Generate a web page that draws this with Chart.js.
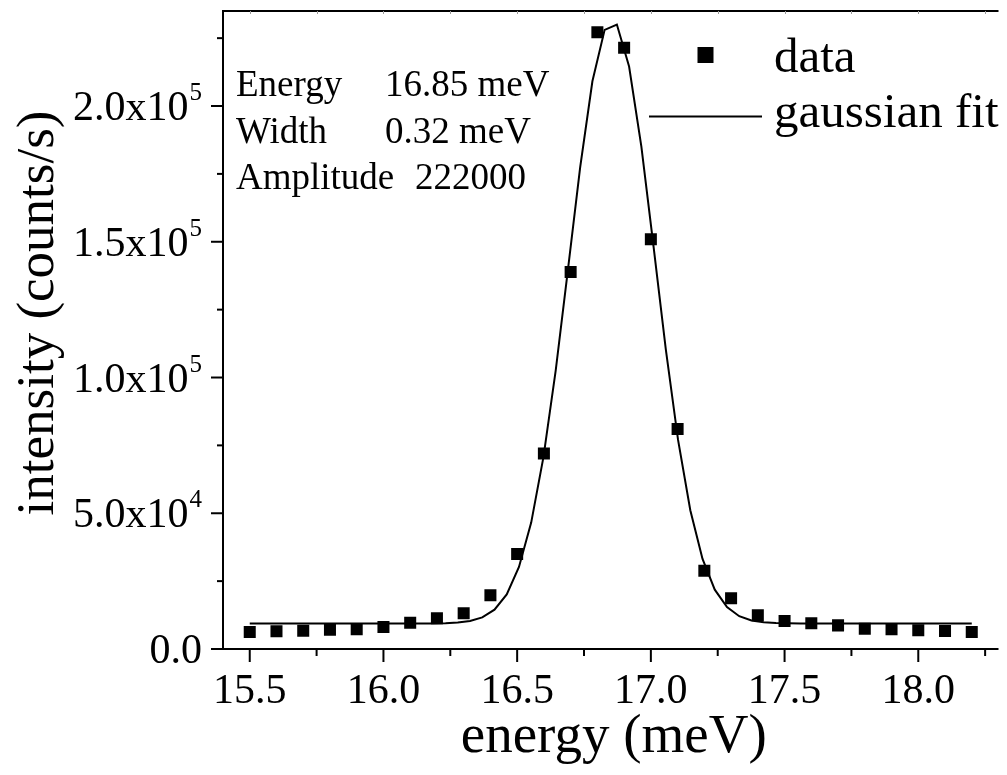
<!DOCTYPE html>
<html>
<head>
<meta charset="utf-8">
<script src="https://cdn.jsdelivr.net/npm/chart.js@4/dist/chart.umd.min.js"></script>
<style>
  html, body { margin: 0; padding: 0; background: #ffffff; overflow: hidden; }
  canvas { display: block; }
</style>
</head>
<body>
<canvas id="chart" width="1007" height="775"></canvas>
<script>
// Measured spectrum (energy in meV, intensity in counts/s)
const energy = [15.5, 15.6, 15.7, 15.8, 15.9, 16.0, 16.1, 16.2, 16.3, 16.4,
                16.5, 16.6, 16.7, 16.8, 16.9, 17.0, 17.1, 17.2, 17.3, 17.4,
                17.5, 17.6, 17.7, 17.8, 17.9, 18.0, 18.1, 18.2];
const intensity = [6300, 6500, 6750, 7100, 7250, 8100, 9700, 11300, 13200, 19800,
                   35000, 72000, 138900, 227200, 221500, 150900, 81000, 28800, 18700, 12400,
                   10300, 9500, 8700, 7500, 7250, 6900, 6650, 6300];

// Gaussian fit curve, tabulated on 60 points
const fitEnergy = [15.5, 15.5458, 15.5915, 15.6373, 15.6831, 15.7288, 15.7746, 15.8203, 15.8661, 15.9119,
                   15.9576, 16.0034, 16.0492, 16.0949, 16.1407, 16.1864, 16.2322, 16.278, 16.3237, 16.3695,
                   16.4153, 16.461, 16.5068, 16.5525, 16.5983, 16.6441, 16.6898, 16.7356, 16.7814, 16.8271,
                   16.8729, 16.9186, 16.9644, 17.0102, 17.0559, 17.1017, 17.1475, 17.1932, 17.239, 17.2847,
                   17.3305, 17.3763, 17.422, 17.4678, 17.5136, 17.5593, 17.6051, 17.6508, 17.6966, 17.7424,
                   17.7881, 17.8339, 17.8797, 17.9254, 17.9712, 18.0169, 18.0627, 18.1085, 18.1542, 18.2];
const fitIntensity = [9400, 9400, 9400, 9400, 9400, 9400, 9400, 9400, 9400, 9400,
                      9400, 9400, 9400, 9403, 9410, 9436, 9514, 9733, 10297, 11622,
                      14488, 20105, 30193, 46563, 70694, 102529, 139670, 177432, 209111, 228052,
                      230015, 214528, 185113, 148083, 110321, 77021, 51136, 33176, 21861, 15430,
                      12082, 10499, 9816, 9545, 9446, 9414, 9404, 9400, 9400, 9400,
                      9400, 9400, 9400, 9400, 9400, 9400, 9400, 9400, 9400, 9400];

// Axis ticks and labels
const xMajorTicks = [15.5, 16.0, 16.5, 17.0, 17.5, 18.0];
const xTickLabels = ['15.5', '16.0', '16.5', '17.0', '17.5', '18.0'];
const xMinorTicks = [15.75, 16.25, 16.75, 17.25, 17.75, 18.25];
const yMajorTicks = [0, 50000, 100000, 150000, 200000];
const yTickMantissa = ['0.0', '5.0x10', '1.0x10', '1.5x10', '2.0x10'];
const yTickExponent = ['', '4', '5', '5', '5'];
const yMinorTicks = [25000, 75000, 125000, 175000, 225000];

// Fit results shown in the upper left corner
const fitNames = ['Energy', 'Width', 'Amplitude'];
const fitValues = ['16.85 meV', '0.32 meV', '222000'];

const xTitle = 'energy (meV)';
const yTitle = 'intensity (counts/s)';
const legendLabels = ['data', 'gaussian fit'];

const SERIF = '"Liberation Serif", "Times New Roman", serif';

const framePlugin = {
  id: 'frame',
  afterDraw(chart) {
    const ctx = chart.ctx;
    const area = chart.chartArea;
    const xs = chart.scales.x;
    const ys = chart.scales.y;
    ctx.save();
    ctx.strokeStyle = '#000';
    ctx.fillStyle = '#000';

    // top frame with fine ticks
    ctx.lineWidth = 2;
    ctx.beginPath();
    ctx.moveTo(area.left - 1, area.top);
    ctx.lineTo(area.right, area.top);
    ctx.stroke();
    ctx.lineWidth = 1;
    ctx.strokeStyle = '#999';
    [...xMajorTicks, ...xMinorTicks].forEach(v => {
      const px = Math.round(xs.getPixelForValue(v)) + 0.5;
      ctx.beginPath();
      ctx.moveTo(px, area.top);
      ctx.lineTo(px, area.top + 3);
      ctx.stroke();
    });
    ctx.strokeStyle = '#000';

    // bottom axis
    ctx.lineWidth = 2;
    ctx.beginPath();
    ctx.moveTo(area.left - 12, area.bottom);
    ctx.lineTo(area.right, area.bottom);
    ctx.stroke();
    xMajorTicks.forEach(v => {
      const px = xs.getPixelForValue(v);
      ctx.beginPath();
      ctx.moveTo(px, area.bottom);
      ctx.lineTo(px, area.bottom + 13);
      ctx.stroke();
    });
    xMinorTicks.forEach(v => {
      const px = xs.getPixelForValue(v);
      ctx.beginPath();
      ctx.moveTo(px, area.bottom);
      ctx.lineTo(px, area.bottom + 7);
      ctx.stroke();
    });

    // left axis
    ctx.beginPath();
    ctx.moveTo(area.left, area.top - 1);
    ctx.lineTo(area.left, area.bottom + 1);
    ctx.stroke();
    yMajorTicks.forEach(v => {
      const py = ys.getPixelForValue(v);
      ctx.beginPath();
      ctx.moveTo(area.left, py);
      ctx.lineTo(area.left - 12, py);
      ctx.stroke();
    });
    yMinorTicks.forEach(v => {
      const py = ys.getPixelForValue(v);
      ctx.beginPath();
      ctx.moveTo(area.left, py);
      ctx.lineTo(area.left - 6, py);
      ctx.stroke();
    });

    // x tick labels
    ctx.font = '42px ' + SERIF;
    ctx.textAlign = 'center';
    ctx.textBaseline = 'alphabetic';
    xMajorTicks.forEach((v, i) => {
      ctx.fillText(xTickLabels[i], xs.getPixelForValue(v), area.bottom + 54);
    });

    // y tick labels with superscript exponent
    const labelRight = area.left - 21;
    yMajorTicks.forEach((v, i) => {
      const py = ys.getPixelForValue(v);
      ctx.textAlign = 'right';
      let right = labelRight;
      if (yTickExponent[i]) {
        ctx.font = '25px ' + SERIF;
        ctx.fillText(yTickExponent[i], right, py - 6);
        right -= ctx.measureText(yTickExponent[i]).width + 1;
      }
      ctx.font = '42px ' + SERIF;
      ctx.fillText(yTickMantissa[i], right, py + 14);
    });

    // axis titles
    ctx.font = '55px ' + SERIF;
    ctx.textAlign = 'center';
    ctx.fillText(xTitle, (area.left + Math.min(area.right, chart.width)) / 2 + 3, 752);
    ctx.save();
    ctx.translate(53, 313);
    ctx.rotate(-Math.PI / 2);
    ctx.font = '53px ' + SERIF;
    ctx.fillText(yTitle, 0, 0);
    ctx.restore();

    // fit parameter table
    ctx.font = '37px ' + SERIF;
    ctx.textAlign = 'left';
    const valueX = [area.left + 162, area.left + 162, area.left + 192];
    fitNames.forEach((name, i) => {
      const base = area.top + 85 + i * 46.7;
      ctx.fillText(name, area.left + 13, base);
      ctx.fillText(fitValues[i], valueX[i], base);
    });

    // legend, styled from the datasets
    const dsData = chart.data.datasets[0];
    const dsFit = chart.data.datasets[1];
    ctx.fillStyle = dsData.backgroundColor;
    ctx.fillRect(697.5, 47, 16, 16);
    ctx.strokeStyle = dsFit.borderColor;
    ctx.lineWidth = dsFit.borderWidth;
    ctx.beginPath();
    ctx.moveTo(649, 116.5);
    ctx.lineTo(762, 116.5);
    ctx.stroke();
    ctx.fillStyle = '#000';
    ctx.font = '49px ' + SERIF;
    ctx.fillText(legendLabels[0], 774, 71.5);
    ctx.fillText(legendLabels[1], 774, 126.5);

    ctx.restore();
  }
};

new Chart(document.getElementById('chart'), {
  type: 'scatter',
  data: {
    datasets: [
      {
        label: legendLabels[0],
        data: energy.map((e, i) => ({ x: e, y: intensity[i] })),
        pointStyle: 'rect',
        pointRadius: 8.5,
        pointBorderWidth: 0,
        backgroundColor: '#000000',
        borderColor: '#000000',
        showLine: false,
        order: 1
      },
      {
        label: legendLabels[1],
        data: fitEnergy.map((e, i) => ({ x: e, y: fitIntensity[i] })),
        showLine: true,
        pointRadius: 0,
        borderColor: '#000000',
        borderWidth: 2,
        tension: 0,
        fill: false,
        order: 2
      }
    ]
  },
  options: {
    responsive: false,
    animation: false,
    events: [],
    layout: { padding: { left: 223, top: 11, right: -3, bottom: 126 } },
    plugins: { legend: { display: false }, tooltip: { enabled: false } },
    scales: {
      x: { type: 'linear', min: 15.4, max: 18.3, display: false },
      y: { type: 'linear', min: 0, max: 235000, display: false }
    }
  },
  plugins: [framePlugin]
});
</script>
</body>
</html>
